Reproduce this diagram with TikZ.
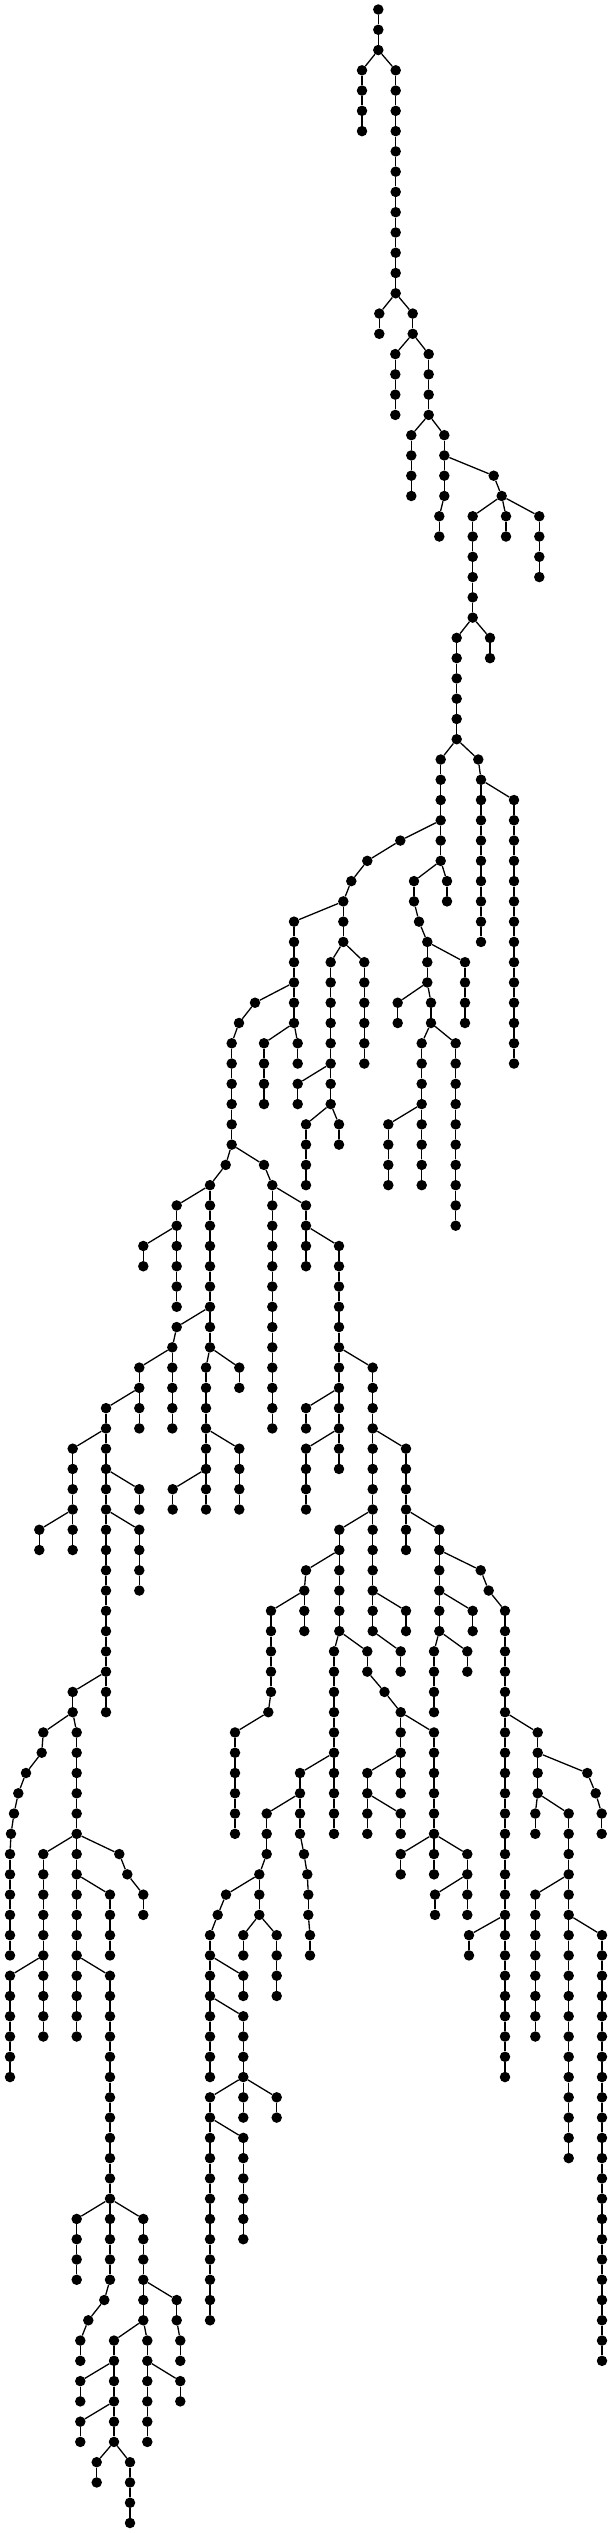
\documentclass[tikz,border=0pt]{standalone}
\tikzset{
  dot/.style={circle,fill=black,draw=none,inner sep=0pt,minimum size=10.5pt},
  edge/.style={line width=1.3pt,black}
}
\newcommand\mkch[4]{%
  \foreach \l in {#3,...,#4}{%
    \pgfmathsetmacro\yy{-(9.5+20.27*\l)}%
    \node[dot] (#1-\l) at (#2pt,\yy pt) {};
  }%
  \foreach \l in {#3,...,#4}{%
    \ifnum\l>#3\relax
      \pgfmathtruncatemacro\pp{\l-1}%
      \draw[edge] (#1-\pp) -- (#1-\l);
    \fi
  }%
}
\newcommand\ch[5]{\mkch{#1}{#3}{#4}{#5}\draw[edge] (#2) -- (#1-#4);}
\begin{document}
\begin{tikzpicture}
\fill[white] (0pt,0pt) rectangle (612pt,-2533pt);
\useasboundingbox (0pt,0pt) rectangle (612pt,-2533pt);
\mkch{A}{378.3}{0}{2}
\ch{B}{A-2}{362}{3}{6}
\ch{C}{A-2}{395.7}{3}{14}
\ch{D}{C-14}{379.3}{15}{16}
\ch{E}{C-14}{412.7}{15}{16}
\ch{F}{E-16}{395.3}{17}{20}
\ch{G}{E-16}{428.7}{17}{20}
\ch{H}{G-20}{411.3}{21}{24}
\ch{I}{G-20}{444.3}{21}{24}
\ch{Ia}{I-24}{439.3}{25}{26}
\ch{J}{I-22}{493.7}{23}{23}
\ch{K}{J-23}{501.7}{24}{24}
\ch{L}{K-24}{472.7}{25}{30}
\ch{Ka}{K-24}{506}{25}{26}
\ch{M}{K-24}{539.3}{25}{28}
\ch{N}{L-30}{456.7}{31}{36}
\ch{Na}{L-30}{490}{31}{32}
\ch{O}{N-36}{440.7}{37}{42}
\ch{P0}{N-36}{478.3}{37}{37}
\ch{P}{P0-37}{481}{38}{46}
\ch{T}{P-38}{514}{39}{52}
\ch{Q1}{O-40}{400.3}{41}{41}
\ch{Q2}{Q1-41}{367.3}{42}{42}
\ch{Q3}{Q2-42}{351.3}{43}{43}
\ch{Q4}{Q3-43}{343.3}{44}{44}
\ch{U}{Q4-44}{294}{45}{50}
\ch{V}{Q4-44}{343.3}{45}{46}
\ch{R1}{O-42}{414}{43}{44}
\ch{R2}{R1-44}{419}{45}{45}
\ch{R}{R2-45}{427.3}{46}{48}
\ch{S}{O-42}{447}{43}{44}
\ch{W}{R-46}{465}{47}{50}
\ch{X1}{R-48}{397.7}{49}{50}
\ch{X2}{R-48}{431}{49}{50}
\ch{X3}{X2-50}{421.7}{51}{58}
\ch{X4}{X2-50}{455.7}{51}{60}
\ch{X5}{X3-54}{388.3}{55}{58}
\ch{V1}{V-46}{330.7}{47}{54}
\ch{V2}{V-46}{364.3}{47}{52}
\ch{V3}{V1-52}{297.7}{53}{54}
\ch{V4}{V1-54}{306}{55}{58}
\ch{V5}{V1-54}{339}{55}{56}
\ch{U1}{U-50}{264}{51}{54}
\ch{U2}{U-50}{297.7}{51}{52}
\ch{Y1}{U-48}{255}{49}{49}
\ch{Y2}{Y1-49}{239}{50}{50}
\ch{Y}{Y2-50}{231.7}{51}{56}
\ch{Z1}{Y-56}{225.7}{57}{57}
\ch{Z}{Z1-57}{210}{58}{66}
\ch{Z2}{Z-58}{176.7}{59}{64}
\ch{Z3}{Z2-60}{143.3}{61}{62}
\ch{AA1}{Z-64}{176.7}{65}{65}
\ch{AA}{AA1-65}{172.3}{66}{70}
\ch{AB}{AA-66}{139.3}{67}{70}
\ch{AC}{AB-68}{106}{69}{84}
\ch{AD}{AC-70}{72.7}{71}{76}
\ch{AE}{AD-74}{39.3}{75}{76}
\ch{AF}{AC-72}{139.3}{73}{74}
\ch{AG}{AC-74}{139.3}{75}{78}
\ch{AH}{AC-82}{72.7}{83}{84}
\ch{ZA}{Z-66}{206}{67}{74}
\ch{ZB}{Z-66}{239.3}{67}{68}
\ch{ZC}{ZA-70}{239.3}{71}{74}
\ch{ZD}{ZA-72}{172.7}{73}{74}
\ch{BA1}{Y-56}{264}{57}{57}
\ch{BA}{BA1-57}{272.3}{58}{70}
\ch{BB}{BA-58}{306}{59}{62}
\ch{BC}{BB-60}{339}{61}{72}
\ch{BD}{BC-66}{372.7}{67}{80}
\ch{BE}{BC-68}{306}{69}{70}
\ch{BF}{BC-70}{306}{71}{74}
\ch{BG}{BD-70}{406}{71}{76}
\ch{BH}{BD-74}{339.3}{75}{80}
\ch{BI}{BD-78}{406}{79}{80}
\ch{BJ}{BD-80}{400.7}{81}{82}
\ch{BK}{BG-74}{439.3}{75}{80}
\ch{BL1}{BK-76}{480.7}{77}{77}
\ch{BL2}{BL1-77}{488.7}{78}{78}
\ch{BL}{BL2-78}{505}{79}{102}
\ch{BM}{BK-78}{472.7}{79}{80}
\ch{BN}{BK-80}{434}{81}{84}
\ch{BO}{BK-80}{467.3}{81}{82}
\ch{BP1}{BH-76}{306}{77}{77}
\ch{BP}{BP1-77}{304.3}{78}{80}
\ch{BQ}{BP-78}{271}{79}{83}
\ch{BQ1}{BQ-83}{268.3}{84}{84}
\ch{BR}{BQ1-84}{235}{85}{90}
\ch{BS}{BH-80}{334}{81}{90}
\ch{BT}{BH-80}{367.3}{81}{82}
\ch{BT1}{BT-82}{384.5}{83}{83}
\ch{BU}{BT1-83}{400.7}{84}{88}
\ch{BV}{BU-84}{434}{85}{92}
\ch{BW}{BU-86}{367.3}{87}{90}
\ch{BX}{BW-88}{400.7}{89}{90}
\ch{BY}{BV-90}{400.7}{91}{92}
\ch{BZ}{BV-90}{467.3}{91}{94}
\ch{CA}{BZ-92}{435}{93}{94}
\ch{CB}{BL-84}{537.7}{85}{88}
\ch{CB2}{CB-88}{535.3}{89}{90}
\ch{CC1}{CB-86}{587.3}{87}{87}
\ch{CC2}{CC1-87}{595.7}{88}{88}
\ch{CC}{CC2-88}{601.7}{89}{90}
\ch{CD}{CB-88}{568.7}{89}{106}
\ch{CE}{CD-92}{535.3}{93}{100}
\ch{CF}{CD-94}{602}{95}{116}
\ch{CG}{BL-94}{469}{95}{96}
\ch{CH}{BS-86}{300}{87}{90}
\ch{CH1}{CH-90}{304}{91}{91}
\ch{CH2}{CH1-91}{307.3}{92}{92}
\ch{CH3}{CH2-92}{308.3}{93}{94}
\ch{CH4}{CH3-94}{310}{95}{96}
\ch{CI}{CH-88}{266.7}{89}{91}
\ch{CI1}{CI-91}{259.3}{92}{94}
\ch{CJ1}{CI1-92}{226}{93}{93}
\ch{CJ2}{CJ1-93}{217.7}{94}{94}
\ch{CJ}{CJ2-94}{210}{95}{102}
\ch{CK}{CI1-94}{243.3}{95}{96}
\ch{CL}{CI1-94}{276.7}{95}{98}
\ch{CM}{CJ-96}{243.3}{97}{98}
\ch{CN}{CJ-98}{243.3}{99}{102}
\ch{CO}{CN-102}{210}{103}{114}
\ch{CP}{CN-102}{243.3}{103}{104}
\ch{CQ}{CN-102}{276.7}{103}{104}
\ch{CR}{CO-104}{243.3}{105}{110}
\ch{DA1}{AH-84}{43.3}{85}{85}
\ch{DA2}{DA1-85}{41.7}{86}{86}
\ch{DA3}{DA2-86}{26}{87}{87}
\ch{DA4}{DA3-87}{18.3}{88}{88}
\ch{DA5}{DA4-88}{14}{89}{89}
\ch{DA6}{DA5-89}{11}{90}{90}
\ch{DA}{DA6-90}{10}{91}{96}
\ch{DB}{AH-84}{76.7}{85}{100}
\ch{DC}{DB-90}{43.3}{91}{100}
\ch{DD}{DC-96}{10}{97}{102}
\ch{DE1}{DB-90}{119.3}{91}{91}
\ch{DE2}{DE1-91}{127.3}{92}{92}
\ch{DE}{DE2-92}{143.3}{93}{94}
\ch{DF}{DB-92}{110}{93}{96}
\ch{DG}{DB-96}{110}{97}{112}
\ch{DH}{DG-108}{76.7}{109}{112}
\ch{DI}{DG-108}{143.3}{109}{114}
\ch{DJ1}{DG-112}{104.3}{113}{113}
\ch{DJ2}{DJ1-113}{88.3}{114}{114}
\ch{DJ}{DJ2-114}{80.3}{115}{116}
\ch{DK}{DI-112}{176.7}{113}{114}
\ch{DK2}{DK-114}{180.3}{115}{116}
\ch{DL}{DI-114}{114}{115}{120}
\ch{DM}{DI-114}{147.3}{115}{120}
\ch{DN}{DL-116}{80.3}{117}{118}
\ch{DO}{DL-118}{80.3}{119}{120}
\ch{DP}{DL-120}{96.7}{121}{122}
\ch{DQ}{DL-120}{130}{121}{124}
\ch{DR}{DM-116}{180.3}{117}{118}
\end{tikzpicture}
\end{document}
